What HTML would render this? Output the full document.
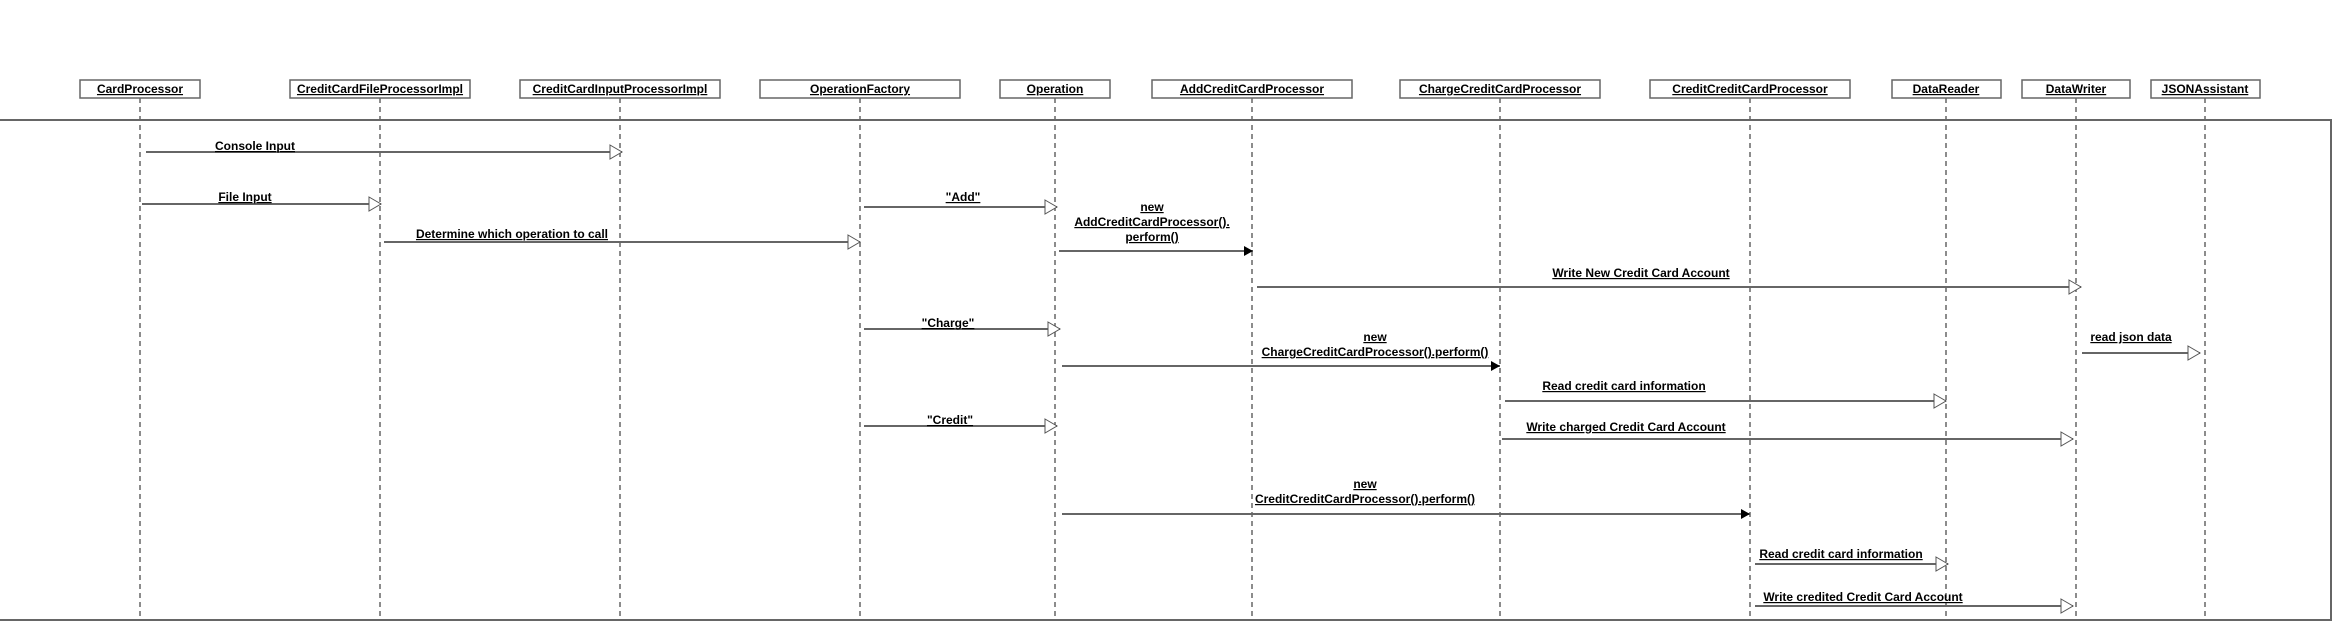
<!DOCTYPE html>
<html><head><meta charset="utf-8"><style>
html,body{margin:0;padding:0;background:#fff;}
svg{display:block;}
text{font-family:"Liberation Sans",Arial,sans-serif;font-weight:bold;font-size:12px;fill:#000;text-decoration:underline;}
</style></head><body>
<svg width="2350" height="640" viewBox="0 0 2350 640" xmlns="http://www.w3.org/2000/svg">
<defs>
<marker id="o" markerWidth="14" markerHeight="16" refX="13" refY="8" orient="auto" markerUnits="userSpaceOnUse"><path d="M1,1 L13,8 L1,15 Z" fill="#fff" stroke="#555" stroke-width="1"/></marker>
<marker id="f" markerWidth="10" markerHeight="10" refX="9" refY="5" orient="auto" markerUnits="userSpaceOnUse"><path d="M0,0 L9,5 L0,10 Z" fill="#000"/></marker>
</defs>
<!-- frame -->
<path d="M-2,120 H2331 V620 H-2" fill="none" stroke="#666" stroke-width="2"/>
<!-- lifelines -->
<g stroke="#666" stroke-width="1.5" stroke-dasharray="5,4">
<line x1="140" y1="98" x2="140" y2="620"/>
<line x1="380" y1="98" x2="380" y2="620"/>
<line x1="620" y1="98" x2="620" y2="620"/>
<line x1="860" y1="98" x2="860" y2="620"/>
<line x1="1055" y1="98" x2="1055" y2="620"/>
<line x1="1252" y1="98" x2="1252" y2="620"/>
<line x1="1500" y1="98" x2="1500" y2="620"/>
<line x1="1750" y1="98" x2="1750" y2="620"/>
<line x1="1946" y1="98" x2="1946" y2="620"/>
<line x1="2076" y1="98" x2="2076" y2="620"/>
<line x1="2205" y1="98" x2="2205" y2="620"/>
</g>
<!-- boxes -->
<g fill="#fff" stroke="#666" stroke-width="1.5">
<rect x="80" y="80" width="120" height="18"/>
<rect x="290" y="80" width="180" height="18"/>
<rect x="520" y="80" width="200" height="18"/>
<rect x="760" y="80" width="200" height="18"/>
<rect x="1000" y="80" width="110" height="18"/>
<rect x="1152" y="80" width="200" height="18"/>
<rect x="1400" y="80" width="200" height="18"/>
<rect x="1650" y="80" width="200" height="18"/>
<rect x="1892" y="80" width="109" height="18"/>
<rect x="2022" y="80" width="108" height="18"/>
<rect x="2151" y="80" width="109" height="18"/>
</g>
<g text-anchor="middle">
<text x="140" y="93">CardProcessor </text>
<text x="380" y="93">CreditCardFileProcessorImpl</text>
<text x="620" y="93">CreditCardInputProcessorImpl</text>
<text x="860" y="93">OperationFactory</text>
<text x="1055" y="93">Operation</text>
<text x="1252" y="93">AddCreditCardProcessor</text>
<text x="1500" y="93">ChargeCreditCardProcessor</text>
<text x="1750" y="93">CreditCreditCardProcessor</text>
<text x="1946" y="93">DataReader</text>
<text x="2076" y="93">DataWriter</text>
<text x="2205" y="93">JSONAssistant</text>
</g>
<!-- messages -->
<g stroke="#666" stroke-width="2" fill="none">
<line x1="146" y1="152" x2="622" y2="152" marker-end="url(#o)"/>
<line x1="142" y1="204" x2="381" y2="204" marker-end="url(#o)"/>
<line x1="384" y1="242" x2="860" y2="242" marker-end="url(#o)"/>
<line x1="864" y1="207" x2="1057" y2="207" marker-end="url(#o)"/>
<line x1="1059" y1="251" x2="1253" y2="251" marker-end="url(#f)"/>
<line x1="1257" y1="287" x2="2081" y2="287" marker-end="url(#o)"/>
<line x1="864" y1="329" x2="1060" y2="329" marker-end="url(#o)"/>
<line x1="1062" y1="366" x2="1500" y2="366" marker-end="url(#f)"/>
<line x1="2082" y1="353" x2="2200" y2="353" marker-end="url(#o)"/>
<line x1="1505" y1="401" x2="1946" y2="401" marker-end="url(#o)"/>
<line x1="1502" y1="439" x2="2073" y2="439" marker-end="url(#o)"/>
<line x1="864" y1="426" x2="1057" y2="426" marker-end="url(#o)"/>
<line x1="1062" y1="514" x2="1750" y2="514" marker-end="url(#f)"/>
<line x1="1755" y1="564" x2="1948" y2="564" marker-end="url(#o)"/>
<line x1="1755" y1="606" x2="2073" y2="606" marker-end="url(#o)"/>
</g>
<g text-anchor="middle">
<text x="255" y="150">Console Input</text>
<text x="245" y="201">File Input</text>
<text x="512" y="238">Determine which operation to call</text>
<text x="963" y="201">"Add"</text>
<text x="1152" y="211">new </text>
<text x="1152" y="226">AddCreditCardProcessor().</text>
<text x="1152" y="241">perform()</text>
<text x="1641" y="277">Write New Credit Card Account</text>
<text x="948" y="327">"Charge"</text>
<text x="1375" y="341">new </text>
<text x="1375" y="356">ChargeCreditCardProcessor().perform()</text>
<text x="2131" y="341">read json data</text>
<text x="1624" y="390">Read credit card information</text>
<text x="1626" y="431">Write charged Credit Card Account</text>
<text x="950" y="424">"Credit"</text>
<text x="1365" y="488">new </text>
<text x="1365" y="503">CreditCreditCardProcessor().perform()</text>
<text x="1841" y="558">Read credit card information</text>
<text x="1863" y="601">Write credited Credit Card Account</text>
</g>
</svg>
</body></html>
